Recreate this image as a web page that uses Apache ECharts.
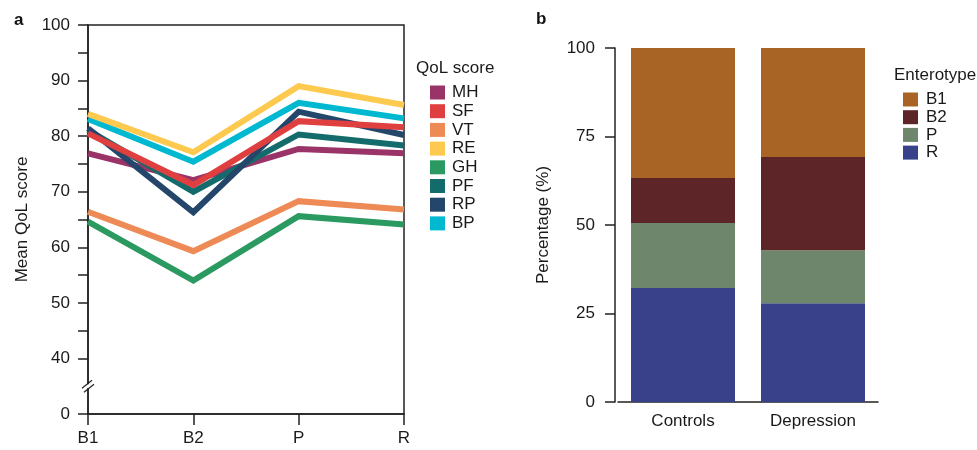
<!DOCTYPE html>
<html><head><meta charset="utf-8">
<script src="https://cdn.jsdelivr.net/npm/echarts@6/dist/echarts.min.js"></script>
<style>html,body{margin:0;padding:0;background:#fff}#c{width:977px;height:450px}</style>
</head><body><div id="c"></div>
<script>
// ---- Panel a data ----
const timepoints = ['B1', 'B2', 'P', 'R'];
const qolNames = ['MH', 'SF', 'VT', 'RE', 'GH', 'PF', 'RP', 'BP'];
const MH = [76.9, 72.1, 77.7, 76.9];
const SF = [80.5, 71.2, 82.7, 81.6];
const VT = [66.4, 59.3, 68.3, 66.8];
const RE = [84.0, 77.1, 89.0, 85.6];
const GH = [64.6, 54.0, 65.6, 64.1];
const PF = [81.1, 70.0, 80.3, 78.3];
const RP = [81.4, 66.3, 84.4, 80.2];
const BP = [83.1, 75.4, 86.0, 83.2];
const yTicksA = [30, 40, 45, 50, 55, 60, 65, 70, 75, 80, 85, 90, 95, 100];
const yLabelsA = [30, 40, 50, 60, 70, 80, 90, 100];
// ---- Panel b data ----
const groups = ['Controls', 'Depression'];
const enteroNames = ['B1', 'B2', 'P', 'R'];
const pctR = [32.2, 27.9];
const pctP = [18.4, 15.0];
const pctB2 = [12.7, 26.3];
const pctB1 = [36.7, 30.8];
const yTicksB = [0, 25, 50, 75, 100];

const qolColors = {MH:'#9a3468', SF:'#e03f3f', VT:'#ee8a55', RE:'#fdc94f', GH:'#2a9a60', PF:'#136b6b', RP:'#25466b', BP:'#00b9d0'};
const qolData = {MH, SF, VT, RE, GH, PF, RP, BP};
const drawOrder = ['MH', 'GH', 'VT', 'PF', 'RP', 'SF', 'BP', 'RE'];
const enteroColors = {B1:'#a86425', B2:'#5e2528', P:'#6e866c', R:'#3a418b'};
const enteroData = {B1: pctB1, B2: pctB2, P: pctP, R: pctR};

const FONT = 'Liberation Sans, Arial, sans-serif';
const TXT = '#1a1a1a';
const FS = 17;

const chart = echarts.init(document.getElementById('c'), null, {renderer: 'canvas'});

const lineSeries = drawOrder.map(n => ({
  name: n, type: 'line', xAxisIndex: 0, yAxisIndex: 0,
  data: qolData[n], symbol: 'none', smooth: false,
  lineStyle: {width: 6, color: qolColors[n], cap: 'butt', join: 'miter'},
  itemStyle: {color: qolColors[n]}, emphasis: {disabled: true}, animation: false
}));
const barSeries = ['R', 'P', 'B2', 'B1'].map(n => ({
  name: n, type: 'bar', stack: 'e', xAxisIndex: 1, yAxisIndex: 1,
  data: enteroData[n], barWidth: 104, itemStyle: {color: enteroColors[n]},
  emphasis: {disabled: true}, animation: false
}));

const axisLine = {show: true, lineStyle: {color: '#222', width: 1.5}};
const tickStyle = {show: true, length: 10, lineStyle: {color: '#222', width: 1.5}};

chart.setOption({
  animation: false,
  textStyle: {fontFamily: FONT},
  title: [
    {text: 'a', left: 9, top: 7, textStyle: {fontSize: 17, fontWeight: 'bold', color: '#111', fontFamily: FONT}},
    {text: 'b', left: 531, top: 6, textStyle: {fontSize: 17, fontWeight: 'bold', color: '#111', fontFamily: FONT}},
    {text: 'QoL score', left: 416, top: 60, padding: 0, textStyle: {fontSize: FS, fontWeight: 'normal', color: TXT, fontFamily: FONT}},
    {text: 'Enterotype', left: 894, top: 67, padding: 0, textStyle: {fontSize: FS, fontWeight: 'normal', color: TXT, fontFamily: FONT}}
  ],
  legend: [
    {data: qolNames, orient: 'vertical', left: 430, top: 84, padding: 0, icon: 'rect', itemWidth: 15, itemHeight: 14,
     itemGap: 1.7, selectedMode: false, textStyle: {fontSize: FS, color: TXT, fontFamily: FONT, padding: [0, 0, 0, 2]}},
    {data: enteroNames, orient: 'vertical', left: 903, top: 91, padding: 0, icon: 'rect', itemWidth: 15, itemHeight: 14,
     itemGap: 0.7, selectedMode: false, textStyle: {fontSize: FS, color: TXT, fontFamily: FONT, padding: [0, 0, 0, 3]}}
  ],
  grid: [
    {left: 88, top: 25, width: 316, height: 389, show: true, borderColor: '#222', borderWidth: 1.5, containLabel: false},
    {left: 618, top: 48, width: 260, height: 354, containLabel: false}
  ],
  xAxis: [
    {gridIndex: 0, type: 'category', data: timepoints, boundaryGap: false,
     axisLine: axisLine, axisTick: {show: true, length: 11, alignWithLabel: true, lineStyle: {color: '#222', width: 1.5}},
     axisLabel: {fontSize: FS, color: TXT, margin: 16, fontFamily: FONT}, splitLine: {show: false}},
    {gridIndex: 1, type: 'category', data: groups, boundaryGap: true,
     axisLine: axisLine, axisTick: {show: false},
     axisLabel: {fontSize: FS, color: TXT, margin: 11, fontFamily: FONT}, splitLine: {show: false}}
  ],
  yAxis: [
    {gridIndex: 0, type: 'value', min: 30, max: 100, interval: 5,
     name: 'Mean QoL score', nameLocation: 'middle', nameGap: 57, nameRotate: 90,
     nameTextStyle: {fontSize: FS, color: TXT, fontFamily: FONT},
     axisLine: axisLine,
     axisTick: Object.assign({}, tickStyle, {customValues: yTicksA}),
     axisLabel: {customValues: yLabelsA, fontSize: FS, color: TXT, margin: 18, fontFamily: FONT,
                 formatter: v => (v === 30 ? '0' : String(v))},
     splitLine: {show: false}},
    {gridIndex: 1, type: 'value', min: 0, max: 100, interval: 25, offset: 3,
     name: 'Percentage (%)', nameLocation: 'middle', nameGap: 63, nameRotate: 90,
     nameTextStyle: {fontSize: FS, color: TXT, fontFamily: FONT},
     axisLine: axisLine, axisTick: tickStyle,
     axisLabel: {customValues: yTicksB, fontSize: FS, color: TXT, margin: 20, fontFamily: FONT},
     splitLine: {show: false}}
  ],
  series: lineSeries.concat(barSeries)
});

// axis-break mark on panel a's y axis (between 0 and 40)
const bp = chart.convertToPixel({xAxisIndex: 0, yAxisIndex: 0}, ['B1', 35]);
chart.setOption({
  graphic: [
    {type: 'rect', shape: {x: bp[0] - 3, y: bp[1] - 2, width: 6, height: 4}, style: {fill: '#fff'}, z: 100},
    {type: 'line', shape: {x1: bp[0] - 6, y1: bp[1] + 2, x2: bp[0] + 4, y2: bp[1] - 6}, style: {stroke: '#222', lineWidth: 1.3}, z: 101},
    {type: 'line', shape: {x1: bp[0] - 4, y1: bp[1] + 6, x2: bp[0] + 6, y2: bp[1] - 2}, style: {stroke: '#222', lineWidth: 1.3}, z: 101}
  ]
});
</script></body></html>
